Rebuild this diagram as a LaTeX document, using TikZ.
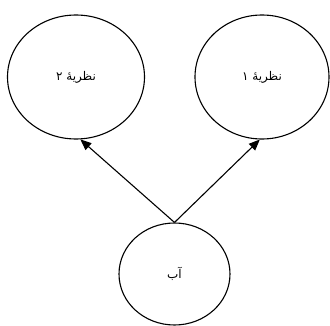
\documentclass[tikz,border=0pt]{standalone}
\usepackage{fontspec}
\TeXXeTstate=1
\newfontfamily\arabicfont[Script=Arabic]{DejaVu Sans}
\usetikzlibrary{shapes.geometric,arrows.meta}
\tikzset{
  idea/.style={ellipse, draw, line width=1.1pt, font=\arabicfont\fontsize{12}{14}\selectfont},
  link/.style={line width=1.1pt, -{Triangle[length=11pt,width=9pt]}}
}
\begin{document}
\begin{tikzpicture}[x=1pt,y=1pt]
\useasboundingbox (0,0) rectangle (330,325);
\node[idea, minimum width=137pt, minimum height=124pt] (t2) at (76,248) {\beginR نظریهٔ ۲\endR};
\node[idea, minimum width=134pt, minimum height=124pt] (t1) at (262,248) {\beginR نظریهٔ ۱\endR};
\node[idea, minimum width=111pt, minimum height=102pt] (ab) at (174.5,51) {\beginR آب\endR};
\draw[link] (ab.north) -- (t2.-86);
\draw[link] (ab.north) -- (t1.-92);
\end{tikzpicture}
\end{document}
